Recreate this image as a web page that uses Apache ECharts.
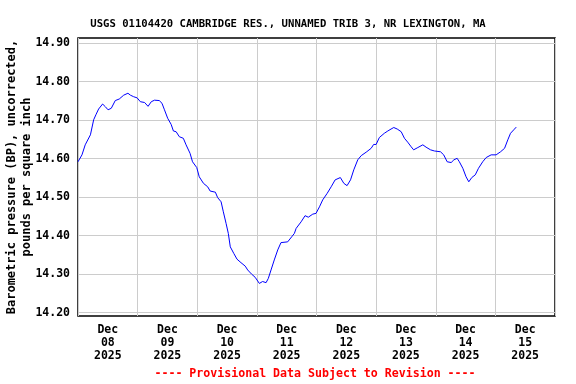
<!DOCTYPE html>
<html>
<head>
<meta charset="utf-8">
<script src="https://cdn.jsdelivr.net/npm/echarts@6/dist/echarts.min.js"></script>
<style>html,body{margin:0;padding:0;background:#fff}#c{width:576px;height:384px}</style>
</head>
<body>
<div id="c"></div>
<script>
// Hours since Dec 08 2025 00:00
const hours = [0,1.6,2.9,5.0,6.3,7.2,8.3,9.9,11.0,12.1,13.4,15.0,16.6,18.4,20.1,21.1,22.4,23.8,25.1,26.8,28.2,29.5,30.8,32.7,33.8,34.8,36.1,37.5,38.4,39.5,40.8,42.4,43.5,45.1,46.1,47.8,48.8,50.5,52.2,53.2,55.3,56.2,57.6,58.5,59.6,60.5,61.3,62.7,64.0,65.6,67.3,68.3,69.9,71.3,73.0,74.3,75.7,76.6,77.7,79.0,80.4,81.7,84.4,86.0,87.1,87.8,89.8,91.4,92.7,94.5,95.8,97.2,98.5,100.3,101.9,103.5,105.6,107.0,108.3,109.7,111.0,112.6,114.0,116.0,118.0,119.0,120.0,121.3,123.3,124.7,126.0,127.1,128.5,130.1,131.4,132.7,134.1,135.1,136.8,138.8,140.1,141.9,143.5,145.9,147.2,148.6,150.2,151.3,152.6,153.5,154.9,156.2,157.3,158.5,159.9,161.2,162.9,164.3,166.3,168.3,170.1,171.7,173.0,174.1,175.4,176.4];
const pressure = [14.592,14.610,14.636,14.662,14.701,14.714,14.729,14.742,14.735,14.727,14.731,14.751,14.755,14.765,14.770,14.765,14.761,14.758,14.748,14.746,14.736,14.748,14.752,14.751,14.744,14.727,14.705,14.689,14.672,14.670,14.657,14.653,14.636,14.614,14.592,14.577,14.553,14.536,14.527,14.516,14.513,14.499,14.488,14.462,14.432,14.406,14.371,14.354,14.339,14.330,14.321,14.311,14.300,14.292,14.276,14.281,14.278,14.289,14.311,14.337,14.363,14.382,14.384,14.397,14.406,14.419,14.436,14.452,14.448,14.456,14.458,14.475,14.493,14.510,14.527,14.545,14.551,14.536,14.530,14.545,14.571,14.597,14.608,14.617,14.627,14.637,14.637,14.655,14.666,14.672,14.677,14.681,14.677,14.670,14.653,14.643,14.631,14.623,14.629,14.636,14.630,14.623,14.620,14.618,14.610,14.592,14.590,14.597,14.601,14.592,14.575,14.553,14.540,14.551,14.558,14.575,14.592,14.603,14.610,14.610,14.618,14.627,14.649,14.666,14.675,14.682];
const dayLabels = ['Dec\n08\n2025','Dec\n09\n2025','Dec\n10\n2025','Dec\n11\n2025','Dec\n12\n2025','Dec\n13\n2025','Dec\n14\n2025','Dec\n15\n2025'];
const yTicks = [14.20,14.30,14.40,14.50,14.60,14.70,14.80,14.90];
const titleText = 'USGS 01104420 CAMBRIDGE RES., UNNAMED TRIB 3, NR LEXINGTON, MA';
const yName = 'Barometric pressure (BP), uncorrected,\npounds per square inch';
const footer = '---- Provisional Data Subject to Revision ----';

const FONT = 'DejaVu Sans Mono';
const chart = echarts.init(document.getElementById('c'), null, {renderer:'canvas'});
const midnights = dayLabels.map((d,i)=>i*24).concat([192]);
const noons = dayLabels.map((d,i)=>i*24+12);
chart.setOption({
  animation:false,
  backgroundColor:'#fff',
  title:{text:titleText,left:'center',top:12,textStyle:{fontFamily:FONT,fontWeight:'bold',fontSize:10.6,color:'#000',lineHeight:14}},
  grid:{left:78,right:21,top:38,bottom:68,containLabel:false,outerBoundsMode:'none',show:true,borderColor:'#000',borderWidth:1.5,backgroundColor:'transparent'},
  xAxis:{type:'value',min:0,max:192,
    axisLine:{show:false},
    axisTick:{show:false,customValues:midnights},
    splitLine:{show:true,lineStyle:{color:'#cccccc',width:1}},
    axisLabel:{customValues:noons,margin:8,fontFamily:FONT,fontWeight:'bold',fontSize:11.5,color:'#000',lineHeight:13,
      formatter:v=>dayLabels[Math.round((v-12)/24)]}},
  yAxis:{type:'value',min:14.1914,max:14.9135,
    name:yName,nameLocation:'middle',nameGap:44,nameMoveOverlap:false,
    nameTextStyle:{fontFamily:FONT,fontWeight:'bold',fontSize:12,color:'#000',lineHeight:14.5},
    axisLine:{show:false},
    axisTick:{show:false,customValues:yTicks},
    splitLine:{show:true,lineStyle:{color:'#cccccc',width:1}},
    axisLabel:{customValues:yTicks,margin:8,fontFamily:FONT,fontWeight:'bold',fontSize:11.5,color:'#000',formatter:v=>v.toFixed(2)}},
  graphic:[{type:'text',x:315,y:374,style:{text:footer,align:'center',verticalAlign:'middle',fill:'#ff0000',font:'bold 11.6px "DejaVu Sans Mono"'}}],
  series:[{type:'line',data:hours.map((h,i)=>[h,pressure[i]]),showSymbol:false,lineStyle:{color:'#0000ff',width:1},silent:true}]
});
</script>
</body>
</html>
